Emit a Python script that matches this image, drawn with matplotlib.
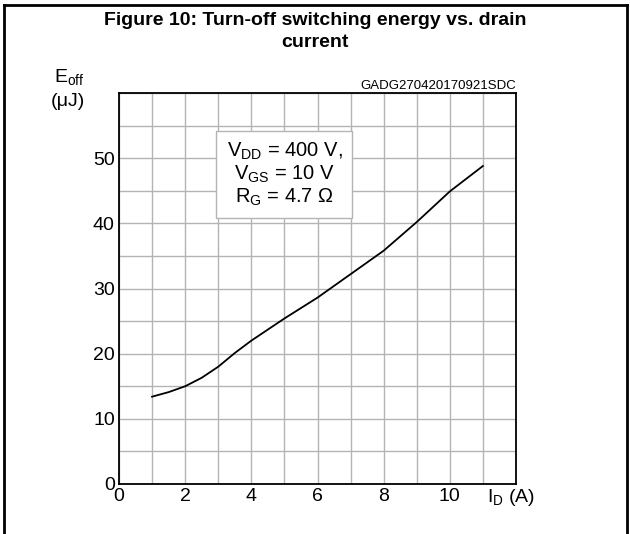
import numpy as np
import matplotlib.pyplot as plt
from matplotlib.lines import Line2D

plt.rcParams['font.family'] = ['Liberation Sans', 'DejaVu Sans']
plt.rcParams['mathtext.fontset'] = 'custom'
plt.rcParams['mathtext.rm'] = 'Liberation Sans'

# curve
i_d = [1, 1.5, 2, 2.5, 3, 3.5, 4, 4.5, 5, 6, 7, 8, 9, 10, 11]
e_off = [13.4, 14.1, 15.0, 16.3, 18.0, 20.1, 22.0, 23.7, 25.4, 28.6, 32.2, 35.8, 40.2, 44.9, 48.8]

x_ticks = [0, 2, 4, 6, 8, 10]
y_ticks = [0, 10, 20, 30, 40, 50]

fig = plt.figure(figsize=(6.3, 5.34), dpi=100)

# outer frame (left, top, right only)
for xs, ys in [([0.006, 0.006], [0.0, 0.991]), ([0.006, 0.995], [0.991, 0.991]),
               ([0.995, 0.995], [0.0, 0.991])]:
    fig.add_artist(Line2D(xs, ys, color='black', lw=2.0, transform=fig.transFigure))

fig.text(0.5, 0.962, "Figure 10: Turn-off switching energy vs. drain", ha='center', va='center',
         fontsize=14, fontweight='bold')
fig.text(0.5, 0.921, "current", ha='center', va='center', fontsize=14, fontweight='bold')

ax = fig.add_axes([119 / 630, 50 / 534, 397 / 630, 391 / 534])
ax.set_xlim(0, 12)
ax.set_ylim(0, 60)
ax.set_xticks(np.arange(0, 13, 1), minor=True)
ax.set_yticks(np.arange(0, 61, 5), minor=True)
ax.set_xticks(x_ticks)
ax.set_yticks(y_ticks)
ax.grid(True, which='both', color='#b4b4b4', lw=1.0)
ax.tick_params(which='both', length=0, labelsize=14, pad=3)
for s in ax.spines.values():
    s.set_linewidth(1.3)

ax.plot(i_d, e_off, color='black', lw=1.3)

ax.text(5.0, 47.5, "V$_{\\mathregular{DD}}$ = 400 V,\nV$_{\\mathregular{GS}}$ = 10 V\nR$_{\\mathregular{G}}$ = 4.7 \u03a9",
        ha='center', va='center', fontsize=14.5, multialignment='center', linespacing=1.1,
        bbox=dict(boxstyle='square,pad=0.5', fc='white', ec='#b4b4b4', lw=1.0))

fig.text(54 / 630, 1 - 78 / 534, "E$_{\\mathregular{off}}$", ha='left', va='center', fontsize=14)
fig.text(51 / 630, 1 - 102 / 534, "(\u03bcJ)", ha='left', va='center', fontsize=14)
fig.text(516 / 630, 1 - 86 / 534, "GADG270420170921SDC", ha='right', va='center', fontsize=9.5)
fig.text(487 / 630, 1 - 497 / 534, "I$_{\\mathregular{D}}$ (A)", ha='left', va='center', fontsize=14)

fig.savefig("out.png", dpi=100)
